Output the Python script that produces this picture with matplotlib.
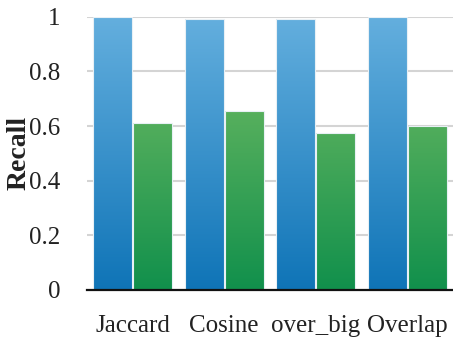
import numpy as np
import matplotlib
matplotlib.use("Agg")
import matplotlib.pyplot as plt
from matplotlib.colors import LinearSegmentedColormap

categories = ["Jaccard", "Cosine", "over_big", "Overlap"]
recall_a = [1.0, 0.993, 0.993, 1.0]
recall_b = [0.61, 0.655, 0.575, 0.60]
yticks = [0, 0.2, 0.4, 0.6, 0.8, 1]
ytick_labels = ["0", "0.2", "0.4", "0.6", "0.8", "1"]

blue_cmap = LinearSegmentedColormap.from_list("blue_grad", ["#0F74B7", "#64AFDE"])
green_cmap = LinearSegmentedColormap.from_list("green_grad", ["#11904C", "#7BC066"])

plt.rcParams["font.family"] = ["Liberation Serif", "DejaVu Serif"]

fig = plt.figure(figsize=(4.53, 3.44), dpi=100)
ax = fig.add_axes([0.192, 0.157, 0.808, 0.794])

x = np.arange(len(categories))
width = 0.425
offset = 0.22

grad = np.linspace(0, 1, 256).reshape(-1, 1)


def gradient_bar(xc, h, cmap):
    bar = ax.bar(xc, h, width=width, color="none", edgecolor="#E8F0F5",
                 linewidth=0.8, zorder=3)[0]
    im = ax.imshow(grad, cmap=cmap, origin="lower", aspect="auto",
                   extent=[xc - width / 2, xc + width / 2, 0, 1.0],
                   zorder=2, interpolation="bilinear")
    im.set_clip_path(bar)


for xi, a, b in zip(x, recall_a, recall_b):
    gradient_bar(xi - offset, a, blue_cmap)
    gradient_bar(xi + offset, b, green_cmap)

ax.set_xlim(-0.5, 3.5)
ax.set_ylim(0, 1.0)

ax.set_yticks(yticks)
ax.set_yticklabels(ytick_labels)
ax.set_xticks(x)
ax.set_xticklabels(categories)
ax.tick_params(axis="y", length=0, pad=19, labelsize=18, colors="#222222")
ax.tick_params(axis="x", length=0, pad=18, labelsize=18, colors="#222222")

ax.yaxis.grid(True, color="#D4D4D4", linewidth=1.5, zorder=0)
ax.set_axisbelow(True)
for side in ["top", "right", "left"]:
    ax.spines[side].set_visible(False)
ax.spines["bottom"].set_color("#111111")
ax.spines["bottom"].set_linewidth(1.6)
ax.spines["bottom"].set_zorder(5)

ax.set_ylabel("Recall", fontsize=20, fontweight="bold", color="#222222", labelpad=0)
ax.yaxis.set_label_coords(-0.152, 0.5)

fig.savefig("out.png", dpi=100, facecolor="white")
